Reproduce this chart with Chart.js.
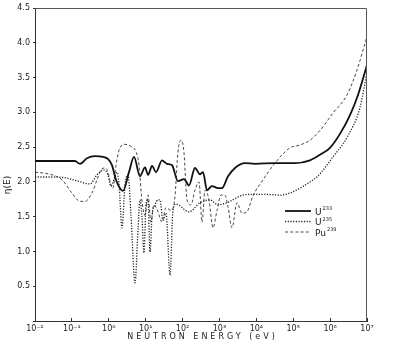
<!DOCTYPE html>
<html>
<head>
<meta charset="utf-8">
<script src="https://cdn.jsdelivr.net/npm/chart.js@4.4.1/dist/chart.umd.min.js"></script>
<style>
  html, body { margin: 0; padding: 0; background: #fff; }
  canvas { display: block; }
</style>
</head>
<body>
<canvas id="etaChart" width="398" height="346"></canvas>
<script>
// --- DATA: eta(E) per isotope, energy in eV ---
const u233Energy = [0.01, 0.048, 0.121, 0.166, 0.257, 0.42, 0.70, 0.95, 1.22, 1.57,
    2.43, 3.53, 4.83, 7.0, 9.6, 11.6, 14.9, 19.1, 27.7, 37.8,
    51.8, 75, 109, 150, 217, 297, 358, 460, 628, 914,
    1170, 1710, 2640, 4930, 9200, 32000, 112000, 285000, 532000, 993000,
    1.85e6, 3.46e6, 5.7e6, 1e7];
const u233Eta = [2.30, 2.30, 2.30, 2.26, 2.34, 2.37, 2.36, 2.33, 2.24, 2.03,
    1.87, 2.14, 2.36, 2.08, 2.21, 2.10, 2.23, 2.14, 2.31, 2.26,
    2.24, 2.01, 2.04, 1.95, 2.20, 2.11, 2.14, 1.88, 1.94, 1.91,
    1.91, 2.08, 2.20, 2.27, 2.26, 2.27, 2.27, 2.31, 2.39, 2.49,
    2.69, 2.96, 3.25, 3.68];

const u235Energy = [0.01, 0.0255, 0.065, 0.147, 0.31, 0.48, 0.74, 0.95, 1.15, 1.38,
    1.67, 1.89, 2.28, 2.75, 3.32, 4.0, 5.14, 6.2, 7.0, 7.9,
    9.0, 10.2, 11.6, 13.1, 14.9, 17.9, 21.6, 24.4, 29.5, 35.6,
    45.7, 55, 66, 150, 297, 555, 914, 1600, 4350, 8100,
    19500, 43800, 81700, 153000, 285000, 441000, 1.2e6, 2.87e6, 6.46e6, 1e7];
const u235Eta = [2.07, 2.07, 2.06, 2.01, 1.97, 2.10, 2.17, 2.10, 1.94, 2.03,
    2.14, 1.98, 1.34, 1.95, 2.10, 1.52, 0.55, 1.31, 1.74, 1.52,
    0.98, 1.67, 1.74, 0.99, 1.52, 1.67, 1.74, 1.74, 1.45, 1.55,
    0.66, 1.59, 1.68, 1.57, 1.70, 1.74, 1.67, 1.70, 1.81, 1.82,
    1.82, 1.81, 1.84, 1.91, 2.00, 2.07, 2.36, 2.64, 3.07, 3.58];

const pu239Energy = [0.01, 0.0255, 0.054, 0.10, 0.166, 0.226, 0.35, 0.48, 0.61, 0.79,
    0.95, 1.15, 1.30, 1.57, 2.01, 2.75, 4.0, 5.5, 6.6, 7.9,
    9.6, 11.6, 13.9, 16.8, 21.6, 27.7, 35.6, 48.6, 62, 75,
    91, 109, 132, 169, 217, 279, 337, 406, 521, 668,
    859, 1100, 1410, 1710, 2190, 2990, 4080, 5580, 8100, 15200,
    32000, 81700, 153000, 285000, 532000, 1.2e6, 2.87e6, 5.36e6, 1e7];
const pu239Eta = [2.14, 2.11, 2.03, 1.84, 1.72, 1.72, 1.84, 2.03, 2.17, 2.20,
    2.14, 1.95, 1.91, 2.24, 2.49, 2.54, 2.51, 2.43, 2.24, 1.74,
    1.52, 1.81, 1.42, 1.67, 1.57, 1.42, 1.63, 1.59, 1.78, 2.43,
    2.60, 2.43, 1.74, 1.67, 1.88, 2.00, 1.42, 1.88, 1.74, 1.34,
    1.59, 1.81, 1.81, 1.64, 1.34, 1.70, 1.55, 1.57, 1.80, 2.03,
    2.27, 2.49, 2.53, 2.60, 2.74, 2.99, 3.25, 3.61, 4.09];

// --- AXIS TICKS ---
const energyTickValues = [1e-2, 1e-1, 1e0, 1e1, 1e2, 1e3, 1e4, 1e5, 1e6, 1e7];
const energyTickLabels = ['10⁻²', '10⁻¹', '10⁰', '10¹', '10²', '10³', '10⁴', '10⁵', '10⁶', '10⁷'];

// legend text: [element, mass number]
const isotopeLabels = [['U', '233'], ['U', '235'], ['Pu', '239']];

const FONT = '"DejaVu Sans", sans-serif';
const INK = '#222';

function toPoints(xs, ys) {
    return xs.map((x, i) => ({ x: x, y: ys[i] }));
}

// --- PLOT BOX, LEGEND, AXIS TITLES ---
const decorPlugin = {
    id: 'decor',
    afterDraw(chart) {
        const { ctx, chartArea: a } = chart;
        ctx.save();

        // top + right edge of the box
        ctx.strokeStyle = '#555';
        ctx.lineWidth = 1;
        ctx.beginPath();
        ctx.moveTo(a.left, a.top + 0.5);
        ctx.lineTo(a.right - 0.5, a.top + 0.5);
        ctx.lineTo(a.right - 0.5, a.bottom);
        ctx.stroke();

        // legend
        chart.data.datasets.forEach((ds, i) => {
            const y = a.top + 203 + i * 10.5;
            ctx.strokeStyle = ds.borderColor;
            ctx.lineWidth = ds.borderWidth;
            ctx.setLineDash(ds.borderDash || []);
            ctx.beginPath();
            ctx.moveTo(a.right - 82, y);
            ctx.lineTo(a.right - 56, y);
            ctx.stroke();
            ctx.setLineDash([]);

            const [el, mass] = isotopeLabels[i];
            ctx.fillStyle = INK;
            ctx.textAlign = 'left';
            ctx.textBaseline = 'alphabetic';
            ctx.font = '9px ' + FONT;
            ctx.fillText(el, a.right - 52, y + 3.5);
            const w = ctx.measureText(el).width;
            ctx.font = '5px ' + FONT;
            ctx.fillText(mass, a.right - 52 + w + 1, y - 1);
        });

        // x title
        ctx.fillStyle = INK;
        ctx.font = '8px ' + FONT;
        ctx.letterSpacing = '3px';
        ctx.textAlign = 'center';
        ctx.textBaseline = 'middle';
        ctx.fillText('NEUTRON ENERGY (eV)', (a.left + a.right) / 2 + 1.5, 337);
        ctx.letterSpacing = '0px';

        // y title
        ctx.translate(8, 185);
        ctx.rotate(-Math.PI / 2);
        ctx.font = '9px ' + FONT;
        ctx.fillText('η(E)', 0, 0);

        ctx.restore();
    }
};

new Chart(document.getElementById('etaChart'), {
    type: 'line',
    data: {
        datasets: [{
            label: 'U233',
            data: toPoints(u233Energy, u233Eta),
            borderColor: '#111',
            borderWidth: 1.8
        }, {
            label: 'U235',
            data: toPoints(u235Energy, u235Eta),
            borderColor: '#222',
            borderWidth: 1.3,
            borderDash: [1.2, 1.5]
        }, {
            label: 'Pu239',
            data: toPoints(pu239Energy, pu239Eta),
            borderColor: '#333',
            borderWidth: 0.9,
            borderDash: [3, 2.2]
        }]
    },
    options: {
        responsive: false,
        animation: false,
        elements: {
            point: { radius: 0 },
            line: { cubicInterpolationMode: 'monotone', fill: false }
        },
        layout: { padding: { top: 8, right: 31, left: 0, bottom: 0 } },
        plugins: {
            legend: { display: false },
            tooltip: { enabled: false }
        },
        scales: {
            x: {
                type: 'logarithmic',
                min: 1e-2,
                max: 1e7,
                afterBuildTicks: (scale) => {
                    scale.ticks = energyTickValues.map(v => ({ value: v }));
                },
                afterFit: (scale) => { scale.height = 25; },
                border: { color: '#333', width: 1 },
                // decade ticks point up into the plot
                grid: { drawOnChartArea: false, tickLength: -3, color: '#333' },
                ticks: {
                    autoSkip: false,
                    maxRotation: 0,
                    padding: 6,
                    color: INK,
                    font: { family: FONT, size: 8 },
                    callback: (v, i) => energyTickLabels[i]
                }
            },
            y: {
                min: 0,
                max: 4.5,
                afterFit: (scale) => { scale.width = 35; },
                border: { color: '#333', width: 1 },
                grid: { drawOnChartArea: false, tickLength: 2, color: '#333' },
                ticks: {
                    stepSize: 0.5,
                    padding: 3,
                    color: INK,
                    font: { family: FONT, size: 8 },
                    callback: (v) => v === 0 ? '' : v.toFixed(1)
                }
            }
        }
    },
    plugins: [decorPlugin]
});
</script>
</body>
</html>
